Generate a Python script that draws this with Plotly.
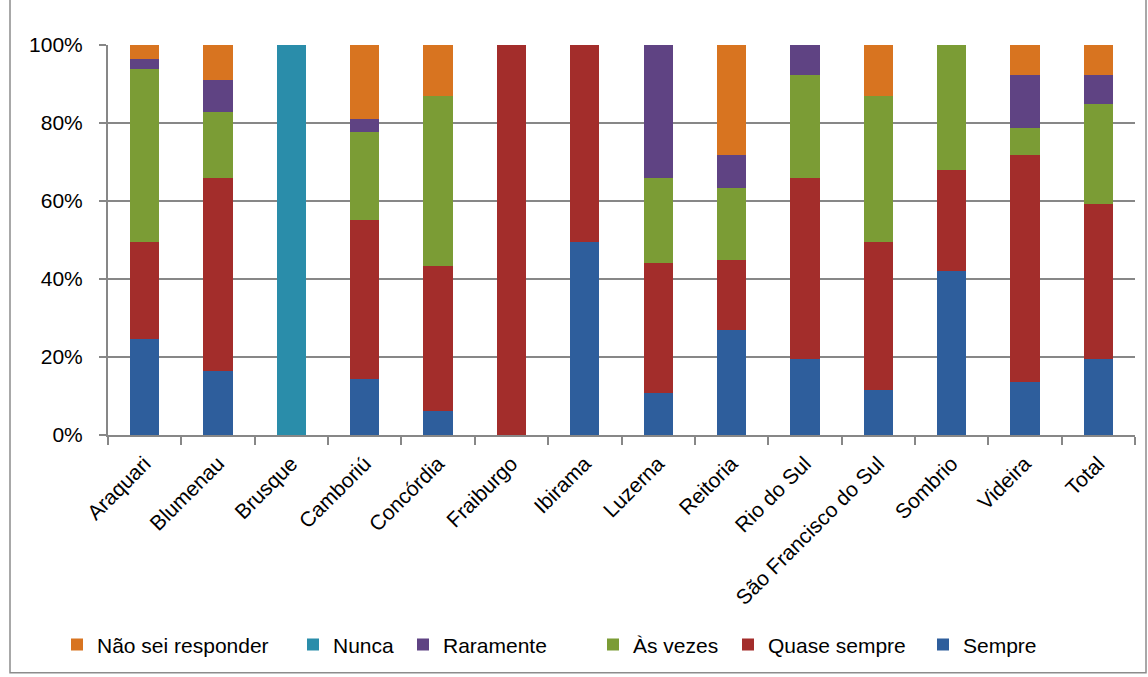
import plotly.graph_objects as go

categories = ["Araquari", "Blumenau", "Brusque", "Camboriú", "Concórdia", "Fraiburgo",
              "Ibirama", "Luzerna", "Reitoria", "Rio do Sul", "São Francisco do Sul",
              "Sombrio", "Videira", "Total"]

sempre       = [24.5, 16.3, 0, 14.3, 6.1, 0, 49.5, 10.7, 27.0, 19.6, 11.5, 42.1, 13.5, 19.6]
quase_sempre = [25.0, 49.5, 0, 40.8, 37.3, 100, 50.5, 33.4, 17.9, 46.2, 38.0, 25.8, 58.4, 39.6]
as_vezes     = [44.4, 17.1, 0, 22.5, 43.6, 0, 0, 21.7, 18.4, 26.5, 37.5, 32.1, 6.9, 25.7]
raramente    = [2.5, 8.2, 0, 3.3, 0, 0, 0, 34.2, 8.6, 7.7, 0, 0, 13.5, 7.4]
nunca        = [0, 0, 100, 0, 0, 0, 0, 0, 0, 0, 0, 0, 0, 0]
nao_sei      = [3.6, 8.9, 0, 19.1, 13.0, 0, 0, 0, 28.1, 0, 13.0, 0, 7.7, 7.7]

series = [
    ("Sempre", sempre, "#2E5E9C"),
    ("Quase sempre", quase_sempre, "#A32D2B"),
    ("Às vezes", as_vezes, "#7B9C35"),
    ("Raramente", raramente, "#5F4383"),
    ("Nunca", nunca, "#2A8DAA"),
    ("Não sei responder", nao_sei, "#D87420"),
]

FONT = "Liberation Sans, Arial, sans-serif"

# plot area in pixels
W, H = 1148, 677
L, R, T, B = 108, 1135, 45, 437
pw, ph = R - L, B - T

def px_x(x):
    return (x - L) / pw

def px_y(y):
    return (B - y) / ph

# legend text start pixel for each series (reference layout)
legend_text_x = {"Não sei responder": 97, "Nunca": 333, "Raramente": 443,
                 "Às vezes": 633, "Quase sempre": 768, "Sempre": 963}

fig = go.Figure()
legend_layout = {}
for i, (name, vals, color) in enumerate(series):
    lname = "legend" if i == 0 else f"legend{i+1}"
    fig.add_trace(go.Bar(
        x=categories, y=vals, name=name,
        marker=dict(color=color, line=dict(width=0)),
        legend=lname,
    ))
    legend_layout[lname] = dict(
        x=px_x(legend_text_x[name] - 40), y=px_y(648),
        xanchor="left", yanchor="middle", orientation="h",
        font=dict(family=FONT, size=21, color="#000"),
        bgcolor="rgba(0,0,0,0)", borderwidth=0,
    )

fig.update_layout(
    barmode="stack",
    bargap=0.6,
    width=W, height=H, autosize=False,
    margin=dict(l=L, r=W - R, t=T, b=H - B, pad=0),
    plot_bgcolor="white", paper_bgcolor="white",
    showlegend=True,
    font=dict(family=FONT, color="#000"),
    **legend_layout,
)

fig.update_yaxes(
    range=[0, 100], tickvals=[0, 20, 40, 60, 80, 100],
    ticktext=["0%", "20%", "40%", "60%", "80%", "100%"],
    showgrid=True, gridcolor="#878787", gridwidth=2,
    showline=True, linecolor="#878787", linewidth=2,
    ticks="outside", ticklen=7, tickcolor="#878787", tickwidth=2,
    tickfont=dict(family=FONT, size=21, color="#000"),
    ticklabelstandoff=12,
    zeroline=False, fixedrange=True,
)
fig.update_xaxes(
    showline=True, linecolor="#878787", linewidth=2,
    ticks="outside", tickson="boundaries", ticklen=8, tickcolor="#878787", tickwidth=2,
    tickangle=-45, tickfont=dict(family=FONT, size=21, color="#000"),
    ticklabelstandoff=6,
    showgrid=False, fixedrange=True,
)

# outer chart border
fig.add_shape(type="rect", xref="paper", yref="paper",
              x0=px_x(10), x1=px_x(1146), y0=px_y(676), y1=px_y(-2),
              line=dict(color="#8C8C8C", width=1.5), fillcolor="rgba(0,0,0,0)", layer="below")

fig.write_html("out.html")
